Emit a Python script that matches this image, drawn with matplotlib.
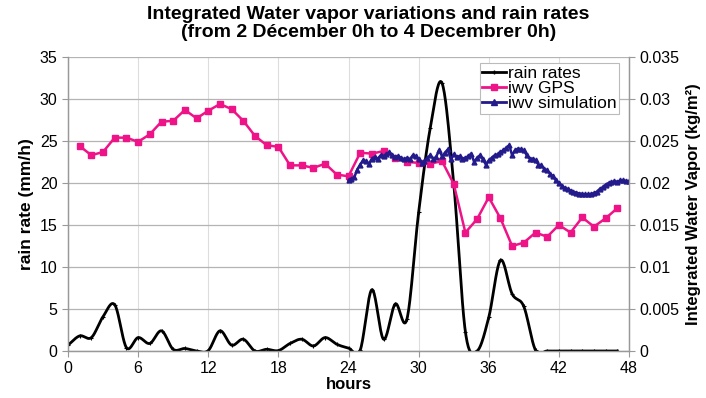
import numpy as np
import matplotlib
matplotlib.use("Agg")
import matplotlib.pyplot as plt
from matplotlib.ticker import FuncFormatter

# rain rate (mm/h), hourly from 0h to 47h
rain_hours = list(range(48))
rain_rate = [0.7, 1.8, 1.6, 4.1, 5.5, 0.4, 1.6, 0.9, 2.4, 0.2,
             0.3, 0.0, 0.05, 2.4, 0.7, 1.4, 0.0, 0.2, 0.05, 0.9,
             1.4, 0.6, 1.6, 0.8, 0.35, 0.1, 7.3, 1.4, 5.6, 3.8,
             16.5, 26.6, 31.9, 20.0, 2.3, 0.0, 4.0, 10.8, 6.8, 5.3,
             0.1, 0.0, 0.0, 0.0, 0.0, 0.0, 0.0, 0.0]

# IWV from GPS (kg/m2), hourly from 1h to 47h
gps_hours = list(range(1, 48))
iwv_gps = [0.0244, 0.0233, 0.0237, 0.0254, 0.0254, 0.0249, 0.0258, 0.0273, 0.0274, 0.0287,
           0.0277, 0.0286, 0.0294, 0.0288, 0.0274, 0.0256, 0.0245, 0.0243, 0.0221, 0.0221,
           0.0218, 0.0223, 0.0210, 0.0208, 0.0236, 0.0235, 0.0238, 0.0230, 0.0225, 0.0224,
           0.0223, 0.0226, 0.0199, 0.0141, 0.0157, 0.0183, 0.0158, 0.0125, 0.0129, 0.0141,
           0.0136, 0.0150, 0.0141, 0.0159, 0.0148, 0.0158, 0.0170]

# IWV from simulation (kg/m2), every 15 min from 24h to 48h
sim_hours = [24 + 0.25 * i for i in range(97)]
iwv_sim = [0.0203, 0.0205, 0.0207, 0.0216, 0.0222, 0.0227, 0.0226, 0.0223, 0.0229, 0.0231,
           0.0229, 0.0233, 0.0232, 0.0234, 0.0237, 0.0233, 0.0231, 0.0232, 0.0230, 0.0228,
           0.0230, 0.0228, 0.0233, 0.0232, 0.0228, 0.0224, 0.0226, 0.0230, 0.0233, 0.0229,
           0.0231, 0.0239, 0.0232, 0.0236, 0.0240, 0.0228, 0.0234, 0.0231, 0.0232, 0.0229,
           0.0230, 0.0232, 0.0235, 0.0225, 0.0230, 0.0233, 0.0228, 0.0222, 0.0227, 0.0230,
           0.0233, 0.0234, 0.0237, 0.0239, 0.0242, 0.0245, 0.0233, 0.0239, 0.0241, 0.0240,
           0.0239, 0.0233, 0.0229, 0.0229, 0.0227, 0.0222, 0.0221, 0.0217, 0.0215, 0.0211,
           0.0208, 0.0203, 0.0200, 0.0197, 0.0194, 0.0193, 0.0191, 0.01895, 0.01885, 0.01875,
           0.0187, 0.01865, 0.01865, 0.0187, 0.0188, 0.01895, 0.0193, 0.0195, 0.0198, 0.0200,
           0.0201, 0.0202, 0.02015, 0.0203, 0.0203, 0.02025, 0.0202]

x_ticks = [0, 6, 12, 18, 24, 30, 36, 42, 48]

plt.rcParams['font.family'] = ['Liberation Sans', 'DejaVu Sans']


def smooth(x, y, n=20):
    # Catmull-Rom curve through the points, like a spreadsheet "smoothed line"
    x = np.asarray(x, float)
    y = np.asarray(y, float)
    px = np.concatenate([[2 * x[0] - x[1]], x, [2 * x[-1] - x[-2]]])
    py = np.concatenate([[2 * y[0] - y[1]], y, [2 * y[-1] - y[-2]]])
    t = np.linspace(0, 1, n, endpoint=False)
    xs, ys = [], []
    for i in range(1, len(px) - 2):
        for p, out in ((px, xs), (py, ys)):
            p0, p1, p2, p3 = p[i - 1], p[i], p[i + 1], p[i + 2]
            out.extend(0.5 * (2 * p1 + (-p0 + p2) * t
                              + (2 * p0 - 5 * p1 + 4 * p2 - p3) * t ** 2
                              + (-p0 + 3 * p1 - 3 * p2 + p3) * t ** 3))
    xs.append(x[-1])
    ys.append(y[-1])
    return np.array(xs), np.array(ys)


fig = plt.figure(figsize=(7.06, 3.98), dpi=100)
ax = fig.add_axes([68 / 706, 1 - 351 / 398, 561 / 706, 294 / 398])
ax2 = ax.twinx()

pink = '#EE1487'
navy = '#231A8C'
grid_col = '#B4B4B4'

# rain rates: smoothed line with small markers at the hourly values
sx, sy = smooth(rain_hours, rain_rate)
ax.plot(sx, sy, color='black', lw=2.0, zorder=3)
ax.plot(rain_hours, rain_rate, ls='none', marker='+', ms=3, mew=0.8, color='black', zorder=4)

ax2.plot(gps_hours, iwv_gps, color=pink, lw=1.8, marker='s', ms=4, mec=pink, mfc=pink)
ax2.plot(sim_hours, iwv_sim, color=navy, lw=1.8, marker='^', ms=3.5, mec=navy, mfc=navy)

ax.set_xlim(0, 48)
ax.set_ylim(0, 35)
ax2.set_ylim(0, 0.035)
ax.set_xticks(x_ticks)
ax.set_yticks(range(0, 36, 5))
ax2.set_yticks(np.arange(0, 0.0351, 0.005))
ax2.yaxis.set_major_formatter(FuncFormatter(lambda v, p: '%g' % round(v, 3)))

ax.grid(True, axis='y', color=grid_col, lw=0.9)
ax.grid(True, axis='x', color='#DDDDDD', lw=0.8)
ax.set_axisbelow(True)

for a in (ax, ax2):
    for s in a.spines.values():
        s.set_color('#999999')
        s.set_linewidth(0.9)
    a.spines['top'].set_visible(False)
    a.tick_params(colors='#999999', labelcolor='black', labelsize=11.5, length=4, width=0.8)
ax.tick_params(axis='x', pad=3)

ax.set_xlabel('hours', fontsize=12, fontweight='bold', labelpad=1)
ax.set_ylabel('rain rate (mm/h)', fontsize=12.5, fontweight='bold', labelpad=4)
ax2.set_ylabel('Integrated Water Vapor (kg/m²)', fontsize=12, fontweight='bold', labelpad=5)

fig.text(0.522, 0.985, 'Integrated Water vapor variations and rain rates\n'
         '(from 2 Décember 0h to 4 Decembrer 0h)',
         ha='center', va='top', fontsize=14, fontweight='bold', linespacing=1.1,
         family=['Liberation Sans Narrow', 'Liberation Sans', 'DejaVu Sans'])

handles = [
    plt.Line2D([], [], color='black', lw=2, marker='+', ms=3),
    plt.Line2D([], [], color=pink, lw=2, marker='s', ms=4),
    plt.Line2D([], [], color=navy, lw=2, marker='^', ms=4),
]
leg = ax2.legend(handles, ['rain rates', 'iwv GPS', 'iwv simulation'],
                 loc='upper right', bbox_to_anchor=(0.983, 0.98), fontsize=12.5,
                 handlelength=1.4, handletextpad=0.1, borderpad=0.15,
                 labelspacing=0.0, fancybox=False, framealpha=1,
                 edgecolor='#BBBBBB', borderaxespad=0)
leg.get_frame().set_linewidth(0.8)

fig.savefig('out.png', dpi=100)
